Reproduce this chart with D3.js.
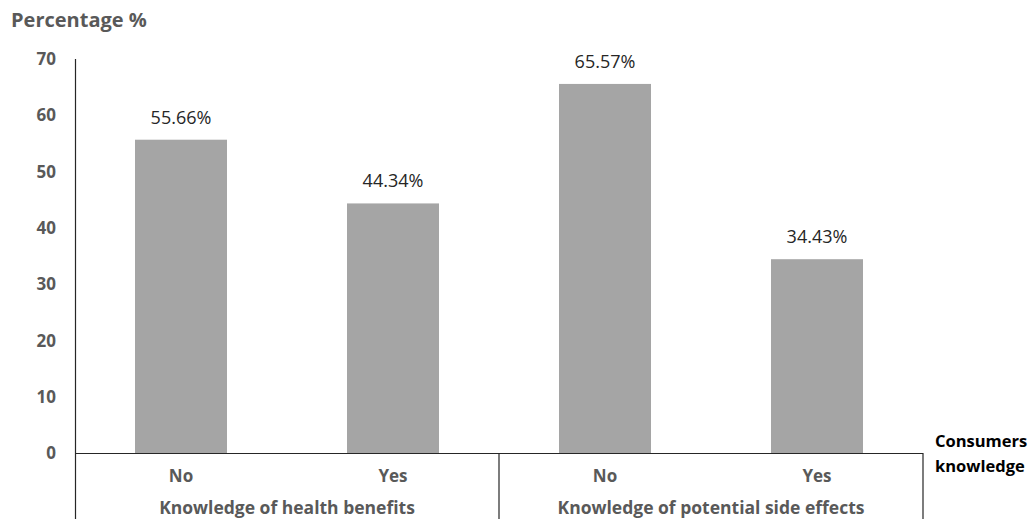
<!DOCTYPE html>
<html><head><meta charset="utf-8">
<script src="https://cdn.jsdelivr.net/npm/d3@7"></script>
<style>body{margin:0;background:#fff}svg{display:block}</style>
</head><body>
<svg id="c" width="1031" height="519"></svg>
<script>
const categories = ["No","Yes","No","Yes"];
const groups = ["Knowledge of health benefits","Knowledge of potential side effects"];
const values = [55.66, 44.34, 65.57, 34.43];
const valueLabels = ["55.66%","44.34%","65.57%","34.43%"];
const yTicks = [0,10,20,30,40,50,60,70];

(function(){
const svg = d3.select("#c");
const mLeft = 75, mRight = 923, mTop = 59, base = 453, mBottom = 519;
const font = "'Open Sans', 'Noto Sans', sans-serif";
const x = d3.scaleBand().domain(d3.range(values.length)).range([mLeft,mRight]).paddingInner(0.566).paddingOuter(0.283);
const y = d3.scaleLinear().domain([0,70]).range([base,mTop]);

// bars
svg.selectAll("rect.bar").data(values).join("rect")
  .attr("x",(d,i)=>x(i)).attr("width",x.bandwidth())
  .attr("y",d=>y(d)).attr("height",d=>base-y(d)).attr("fill","#a5a5a5");

// y axis
svg.append("line").attr("x1",mLeft+0.5).attr("x2",mLeft+0.5).attr("y1",mTop).attr("y2",mBottom).attr("stroke","#262626").attr("stroke-width",1.2);
svg.selectAll("text.yt").data(yTicks).join("text")
  .attr("x",56).attr("y",d=>y(d)).attr("dy","0.36em").attr("text-anchor","end")
  .attr("font-family",font).attr("font-weight","bold").attr("font-size",17).attr("fill","#595959").text(d=>d);

// baseline and group dividers
svg.append("line").attr("x1",mLeft).attr("x2",mRight).attr("y1",base+0.5).attr("y2",base+0.5).attr("stroke","#262626").attr("stroke-width",1.2);
const mid = (x(1)+x.bandwidth()+x(2))/2;
[mid, mRight].forEach(xx=>{
  svg.append("line").attr("x1",xx).attr("x2",xx).attr("y1",base).attr("y2",mBottom).attr("stroke","#262626").attr("stroke-width",1.2);
});

// value labels
svg.selectAll("text.vl").data(values).join("text")
  .attr("x",(d,i)=>x(i)+x.bandwidth()/2).attr("y",d=>y(d)-16)
  .attr("text-anchor","middle").attr("font-family",font).attr("font-size",18).attr("fill","#262626")
  .text((d,i)=>valueLabels[i]);

// category labels
svg.selectAll("text.cat").data(categories).join("text")
  .attr("x",(d,i)=>x(i)+x.bandwidth()/2).attr("y",482)
  .attr("text-anchor","middle").attr("font-family",font).attr("font-weight","bold").attr("font-size",17).attr("fill","#595959")
  .text(d=>d);
svg.selectAll("text.grp").data(groups).join("text")
  .attr("x",(d,i)=>(x(2*i)+x(2*i+1)+x.bandwidth())/2).attr("y",514)
  .attr("text-anchor","middle").attr("font-family",font).attr("font-weight","bold").attr("font-size",17.5).attr("fill","#595959")
  .text(d=>d);

// titles
svg.append("text").attr("x",11).attr("y",27).attr("font-family",font).attr("font-weight","bold").attr("font-size",20).attr("fill","#595959").text("Percentage %");
const ct = svg.append("text").attr("font-family",font).attr("font-weight","bold").attr("font-size",16.5).attr("fill","#000");
ct.append("tspan").attr("x",935).attr("y",447).text("Consumers");
ct.append("tspan").attr("x",935).attr("y",472).text("knowledge");
})();
</script>
</body></html>
